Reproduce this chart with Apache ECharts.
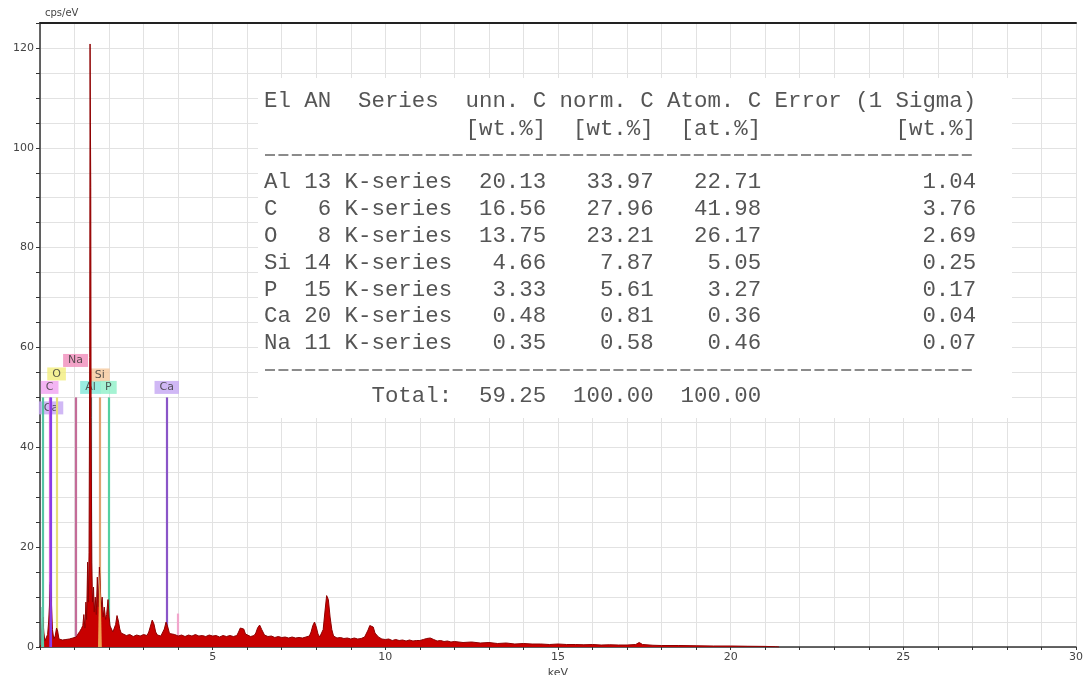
<!DOCTYPE html>
<html>
<head>
<meta charset="utf-8">
<script src="https://cdn.jsdelivr.net/npm/echarts@6/dist/echarts.min.js"></script>
<style>
html, body { margin: 0; padding: 0; background: #fff; }
#chart { width: 1091px; height: 675px; }
</style>
</head>
<body>
<div id="chart"></div>
<script>
// EDX spectrum, [keV, cps/eV]
var spectrum = [
    [0, 0], [0.03, 0.5], [0.05, 3], [0.08, 6], [0.11, 3], [0.14, 1.2], [0.18, 1.5], [0.22, 2.5],
    [0.25, 5], [0.28, 9], [0.3, 12.5], [0.33, 9], [0.36, 3.5], [0.4, 1.6], [0.44, 2.2], [0.48, 3.8],
    [0.51, 3.2], [0.55, 1.6], [0.6, 1.3], [0.65, 1.4], [0.7, 1.2], [0.75, 1.5], [0.8, 1.4], [0.85, 1.6],
    [0.9, 1.5], [0.95, 1.8], [1.0, 1.7], [1.05, 2.0], [1.1, 2.6], [1.15, 3.1], [1.2, 3.7], [1.24, 4.3],
    [1.27, 6.5], [1.3, 3.8], [1.33, 9], [1.35, 5.5], [1.38, 17], [1.4, 9], [1.42, 19], [1.44, 58],
    [1.45, 120.8], [1.46, 105], [1.47, 92], [1.48, 46], [1.5, 17], [1.52, 9], [1.55, 12], [1.57, 7],
    [1.6, 10], [1.63, 6.5], [1.66, 14], [1.69, 8], [1.72, 16], [1.74, 13], [1.77, 8], [1.8, 10],
    [1.83, 6], [1.86, 8], [1.9, 5.5], [1.93, 6.5], [1.97, 9.5], [2.0, 6], [2.03, 4.2], [2.07, 3.6],
    [2.11, 3.0], [2.15, 3.3], [2.19, 4.5], [2.23, 6.3], [2.27, 5.2], [2.31, 3.6], [2.35, 2.8], [2.4, 2.6],
    [2.5, 2.3], [2.6, 2.5], [2.7, 2.1], [2.8, 2.4], [2.9, 2.2], [3.0, 2.5], [3.1, 2.3], [3.15, 3.0],
    [3.2, 4.2], [3.25, 5.4], [3.3, 4.6], [3.35, 3.0], [3.4, 2.4], [3.5, 2.2], [3.55, 2.6], [3.6, 3.6],
    [3.65, 5.0], [3.7, 4.0], [3.75, 2.7], [3.8, 2.3], [3.9, 2.5], [4.0, 2.2], [4.1, 2.4], [4.2, 2.1],
    [4.3, 2.4], [4.4, 2.2], [4.5, 2.5], [4.6, 2.2], [4.7, 2.3], [4.8, 2.1], [4.9, 2.4], [5.0, 2.2],
    [5.1, 2.3], [5.2, 2.0], [5.3, 2.3], [5.4, 2.1], [5.5, 2.3], [5.6, 2.1], [5.7, 2.3], [5.75, 3.0],
    [5.8, 3.8], [5.85, 4.2], [5.9, 3.6], [5.95, 2.6], [6.0, 2.2], [6.1, 2.1], [6.2, 2.3], [6.25, 2.8],
    [6.3, 3.8], [6.36, 4.4], [6.42, 3.5], [6.5, 2.4], [6.6, 2.1], [6.7, 2.2], [6.8, 1.9], [6.9, 2.1],
    [7.0, 1.9], [7.1, 2.0], [7.2, 1.8], [7.3, 2.0], [7.4, 1.8], [7.5, 1.9], [7.6, 1.8], [7.7, 2.0],
    [7.8, 2.2], [7.85, 3.0], [7.9, 4.3], [7.95, 5.0], [8.0, 4.0], [8.05, 2.6], [8.1, 2.0], [8.15, 2.2],
    [8.2, 3.5], [8.25, 7.0], [8.3, 10.3], [8.35, 9.5], [8.4, 6.0], [8.45, 3.5], [8.5, 2.2], [8.6, 1.8],
    [8.7, 1.9], [8.8, 1.7], [8.9, 1.8], [9.0, 1.6], [9.1, 1.8], [9.2, 1.6], [9.3, 1.7], [9.4, 2.0],
    [9.5, 3.4], [9.55, 4.3], [9.6, 4.6], [9.65, 4.0], [9.7, 2.8], [9.8, 2.0], [9.9, 1.6], [10.0, 1.5],
    [10.1, 1.6], [10.2, 1.3], [10.3, 1.5], [10.4, 1.3], [10.5, 1.4], [10.6, 1.2], [10.7, 1.4], [10.8, 1.2],
    [10.9, 1.3], [11.0, 1.3], [11.1, 1.5], [11.2, 1.7], [11.3, 1.8], [11.4, 1.5], [11.5, 1.2], [11.6, 1.3],
    [11.7, 1.1], [11.8, 1.2], [11.9, 1.0], [12.0, 1.1], [12.25, 0.9], [12.5, 1.0], [12.75, 0.8], [13.0, 0.9],
    [13.25, 0.7], [13.5, 0.8], [13.75, 0.6], [14.0, 0.7], [14.25, 0.6], [14.5, 0.6], [14.75, 0.5], [15.0, 0.6],
    [15.25, 0.5], [15.5, 0.5], [15.75, 0.45], [16.0, 0.5], [16.25, 0.4], [16.5, 0.45], [16.75, 0.4], [17.0, 0.4],
    [17.25, 0.5], [17.35, 0.9], [17.45, 0.5], [17.75, 0.35], [18.0, 0.3], [18.5, 0.3], [19.0, 0.25], [19.5, 0.2],
    [20.0, 0.2], [20.5, 0.15], [21.0, 0.12], [21.3, 0.05], [21.4, 0]
];

// coloured fit peaks in front of the spectrum
var fitTeal = [[0.03, 0], [0.04, 8], [0.1, 8], [0.12, 0]];
var fitPurple = [[0.27, 0], [0.28, 13], [0.34, 13], [0.35, 0]];
var fitOrange = [[1.68, 0], [1.71, 12], [1.73, 15], [1.76, 10], [1.79, 0]];

// element marker lines
var markerNames = ['', 'C', 'Ca', 'O', 'Na', 'Al', 'Si', 'P', 'Ca', ''];
var markerKeV = [0.07, 0.28, 0.32, 0.48, 1.03, 1.46, 1.73, 1.98, 3.67, 4.0];
var markerTop = [50, 50, 50, 50, 50, 50, 50, 50, 50, 6.7];
var labelLevel = [null, 52, 47.9, 54.7, 57.4, 52, 54.5, 52, 52, null];

// quantification table
var tableEl = ['Al', 'C', 'O', 'Si', 'P', 'Ca', 'Na'];
var tableAN = [13, 6, 8, 14, 15, 20, 11];
var unnC = ['20.13', '16.56', '13.75', '4.66', '3.33', '0.48', '0.35'];
var normC = ['33.97', '27.96', '23.21', '7.87', '5.61', '0.81', '0.58'];
var atomC = ['22.71', '41.98', '26.17', '5.05', '3.27', '0.36', '0.46'];
var errC = ['1.04', '3.76', '2.69', '0.25', '0.17', '0.04', '0.07'];
var totals = ['59.25', '100.00', '100.00'];

var lineColors = ['#55c4a4', '#d066e0', '#8a3ce6', '#e6df78', '#c46c98', '#45c2b2', '#e0a070', '#55d0a0', '#8a55c8', '#f2a6cc'];
var labelColors = { C: '#f0a2f0', Ca: '#c4a6f2', O: '#f2ee7c', Na: '#f08cba', Al: '#80e6d8', Si: '#f5c89c', P: '#8ef0c8' };

function pad(s, n) {
    s = String(s);
    while (s.length < n) s = ' ' + s;
    return s;
}

var tableLines = [
    'El AN  Series  unn. C norm. C Atom. C Error (1 Sigma)',
    pad('', 15) + '[wt.%]  [wt.%]  [at.%]' + pad('', 10) + '[wt.%]'
];
for (var i = 0; i < tableEl.length; i++) {
    tableLines.push((tableEl[i] + ' ').slice(0, 2) + ' ' + pad(tableAN[i], 2) + ' K-series' +
        pad(unnC[i], 7) + pad(normC[i], 8) + pad(atomC[i], 8) + pad(errC[i], 16));
}
var totalLine = pad('', 8) + 'Total:' + pad(totals[0], 7) + pad(totals[1], 8) + pad(totals[2], 8);

var rowY = [101, 129, 182, 209, 236, 263, 290, 316, 343];
var tableFont = '22.4px "Liberation Mono", "Courier New", monospace';
var graphics = [{
    type: 'rect', z: 100,
    shape: { x: 258, y: 78, width: 754, height: 340 },
    style: { fill: '#fff' }
}];
tableLines.forEach(function (t, k) {
    graphics.push({
        type: 'text', z: 101, x: 264, y: rowY[k],
        style: { text: t, font: tableFont, fill: '#555', verticalAlign: 'middle' }
    });
});
graphics.push({
    type: 'text', z: 101, x: 264, y: 396,
    style: { text: totalLine, font: tableFont, fill: '#555', verticalAlign: 'middle' }
});
[155, 370].forEach(function (y) {
    graphics.push({
        type: 'line', z: 101,
        shape: { x1: 265, y1: y, x2: 975, y2: y },
        style: { stroke: '#666', lineWidth: 1.4, lineDash: [10, 3.4] }
    });
});

var markLines = [];
var labelData = [];
for (var m = 0; m < markerKeV.length; m++) {
    markLines.push([
        { coord: [markerKeV[m], 0], lineStyle: { color: lineColors[m], width: 2.2, type: 'solid' } },
        { coord: [markerKeV[m], markerTop[m]] }
    ]);
    if (markerNames[m]) {
        labelData.push({
            name: markerNames[m],
            value: [markerKeV[m], labelLevel[m]],
            label: { backgroundColor: labelColors[markerNames[m]] }
        });
    }
}

function fitSeries(data, color) {
    return {
        type: 'line', data: data, z: 6, silent: true, showSymbol: false,
        lineStyle: { width: 0 }, areaStyle: { color: color, opacity: 1 }
    };
}

var chart = echarts.init(document.getElementById('chart'));
chart.setOption({
    animation: false,
    grid: { left: 40, right: 15, top: 23, bottom: 28, outerBoundsMode: 'none', containLabel: false },
    xAxis: [{
        type: 'value', min: 0, max: 30, interval: 1,
        name: 'keV', nameLocation: 'middle', nameGap: 17,
        nameTextStyle: { fontSize: 11, color: '#444', fontFamily: 'DejaVu Sans' },
        axisLine: { lineStyle: { color: '#333', width: 1.5 } },
        axisTick: { length: 3, lineStyle: { color: '#333' } },
        axisLabel: {
            fontSize: 11, color: '#444', margin: 5, fontFamily: 'DejaVu Sans',
            formatter: function (v) { return v > 0 && v % 5 === 0 ? v : ''; }
        },
        splitLine: { show: true, lineStyle: { color: '#e2e2e2', width: 1 } }
    }, {
        type: 'value', min: 0, max: 30, position: 'top',
        axisLine: { show: true, onZero: false, lineStyle: { color: '#222', width: 2 } },
        axisTick: { show: false }, axisLabel: { show: false }, splitLine: { show: false }
    }],
    yAxis: {
        type: 'value', min: 0, max: 125, interval: 5,
        name: 'cps/eV', nameLocation: 'end', nameGap: 5,
        nameTextStyle: { fontSize: 10, color: '#444', align: 'left', padding: [0, 0, 0, 5], fontFamily: 'DejaVu Sans' },
        axisLine: { show: true, lineStyle: { color: '#333', width: 1.5 } },
        axisTick: { show: true, length: 4, lineStyle: { color: '#333' } },
        axisLabel: {
            fontSize: 11, color: '#444', margin: 6, fontFamily: 'DejaVu Sans',
            formatter: function (v) { return v % 20 === 0 ? v : ''; }
        },
        splitLine: { lineStyle: { color: '#e2e2e2', width: 1 } }
    },
    graphic: graphics,
    series: [
        {
            type: 'line', data: [], z: 2, silent: true,
            markLine: { symbol: ['none', 'none'], silent: true, animation: false, label: { show: false }, data: markLines }
        },
        {
            type: 'scatter', data: labelData, z: 3, silent: true, symbolSize: 0,
            label: {
                show: true, position: 'inside', formatter: '{b}',
                fontSize: 11, color: '#333', fontFamily: 'DejaVu Sans', padding: [1, 5]
            }
        },
        {
            type: 'line', data: spectrum, z: 5, silent: true, showSymbol: false,
            lineStyle: { color: '#8e0000', width: 1 },
            areaStyle: { color: '#c80000', opacity: 1 }
        },
        fitSeries(fitTeal, '#5cc8a8'),
        fitSeries(fitPurple, '#8a3ce6'),
        fitSeries(fitOrange, '#f0a050')
    ]
});
</script>
</body>
</html>
